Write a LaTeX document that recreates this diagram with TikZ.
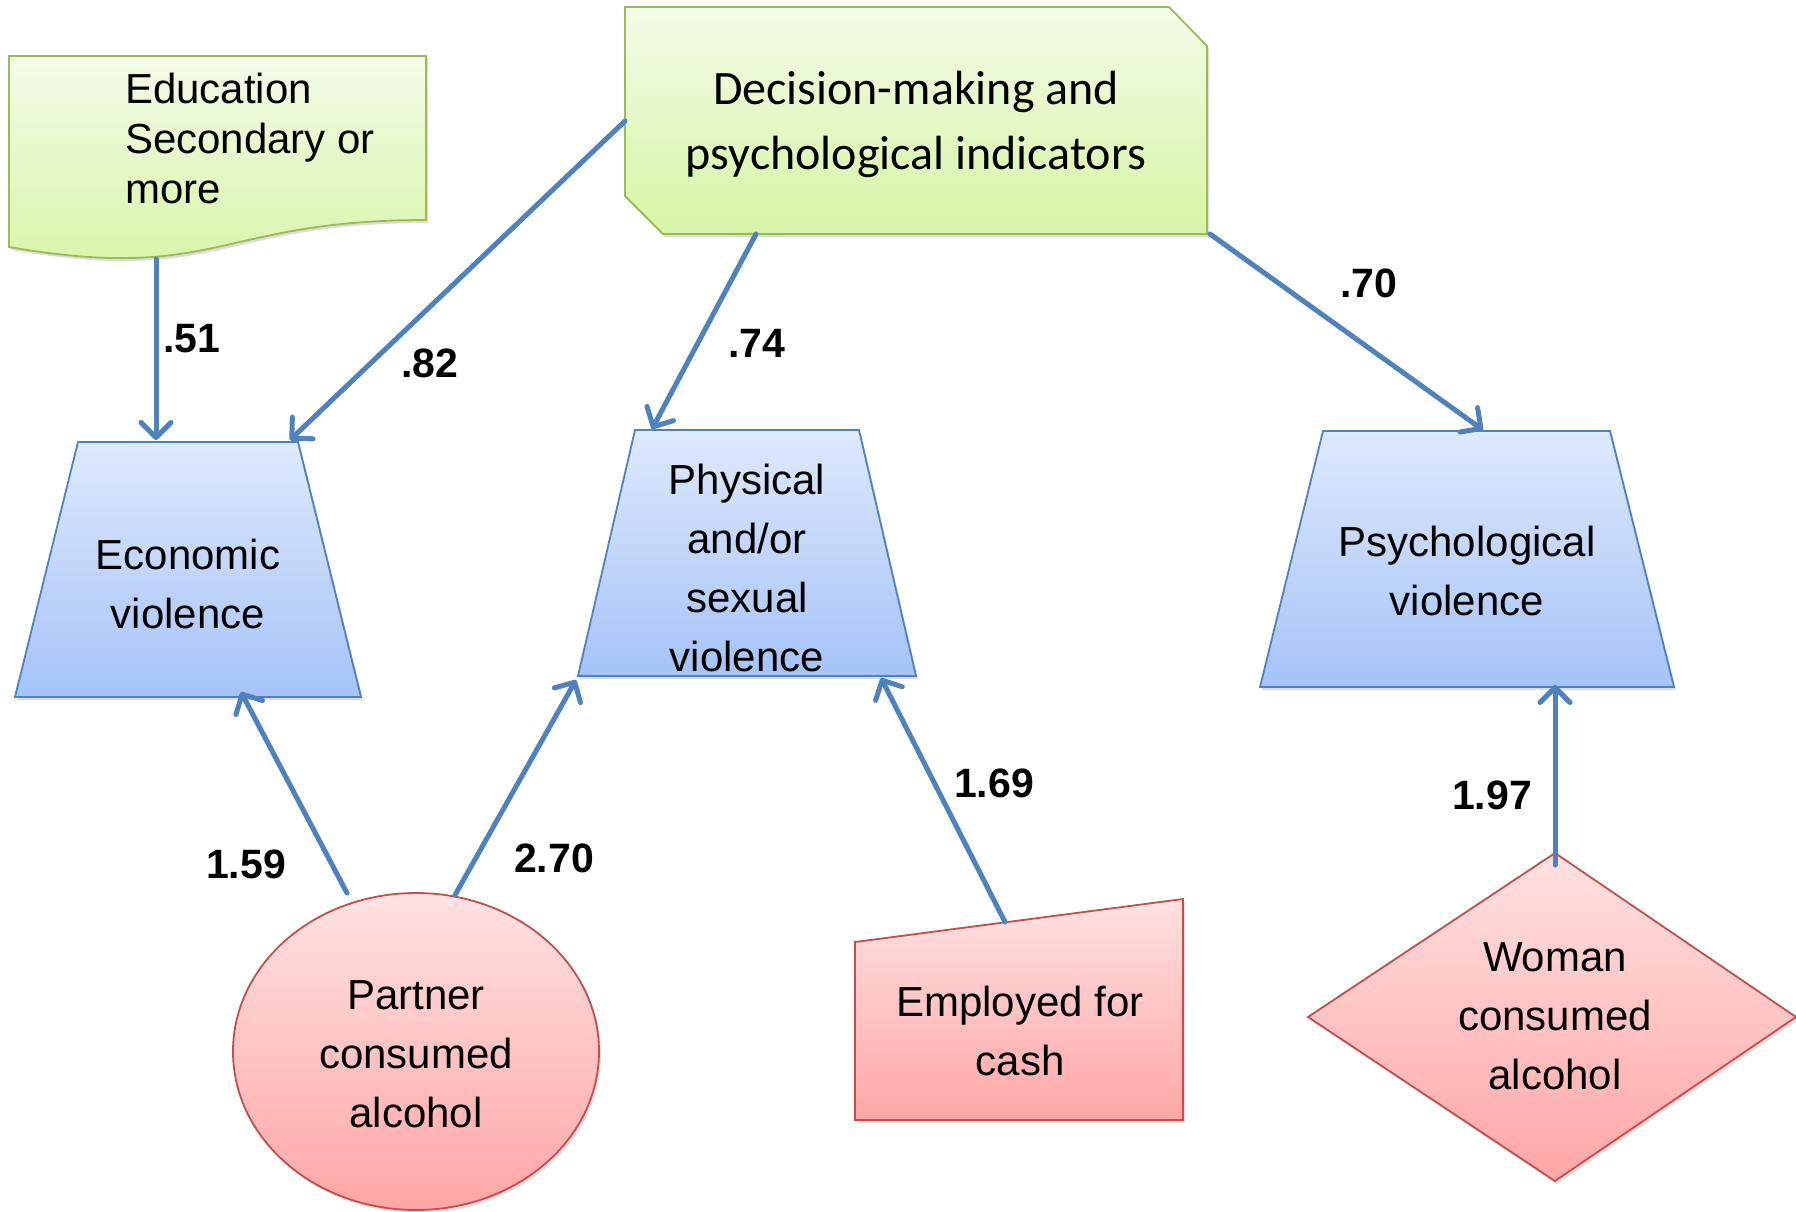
\documentclass[tikz,border=0pt]{standalone}
\usepackage{fontspec}
\setmainfont{Liberation Sans}
\newfontfamily\calfont{Carlito}
\usetikzlibrary{arrows.meta,shadows}
\definecolor{grnTop}{HTML}{F3FBE8}
\definecolor{grnBot}{HTML}{D6F5A4}
\definecolor{grnLine}{HTML}{9BBB59}
\definecolor{bluTop}{HTML}{DEE9FC}
\definecolor{bluBot}{HTML}{A5C3F8}
\definecolor{bluLine}{HTML}{4F81BD}
\definecolor{redTop}{HTML}{FFE1E1}
\definecolor{redBot}{HTML}{FFA6A6}
\definecolor{redLine}{HTML}{C0504D}
\definecolor{arrBlue}{HTML}{4F81BD}
\tikzset{
  shad/.style={drop shadow={shadow xshift=2pt,shadow yshift=-3pt,opacity=0.22,fill=black!60}},
  grnshape/.style={shad,draw=grnLine,line width=1.8pt,top color=grnTop,bottom color=grnBot},
  blushape/.style={shad,draw=bluLine,line width=1.8pt,top color=bluTop,bottom color=bluBot},
  redshape/.style={shad,draw=redLine,line width=1.8pt,top color=redTop,bottom color=redBot},
  txt/.style={inner sep=0pt,align=center,anchor=base,font=\fontsize{42}{59}\selectfont},
  lbl/.style={inner sep=0pt,anchor=base,font=\fontsize{41}{41}\selectfont\bfseries},
  arr/.style={draw=arrBlue,line width=5pt,line cap=round,-{Straight Barb[length=15pt,width=30pt,round]}}
}
\begin{document}
\begin{tikzpicture}[x=1pt,y=-1pt]
\useasboundingbox[fill=white] (0,0) rectangle (1796,1212);

% shapes
\path[grnshape] (9,56) -- (426,56) -- (426,220) .. controls (217.5,220) and (217.5,283) .. (9,247) -- cycle;
\path[grnshape] (625,7) -- (1169,7) -- (1207,46) -- (1207,234) -- (663,234) -- (625,196) -- cycle;
\path[blushape] (78,442) -- (298,442) -- (361,697) -- (15,697) -- cycle;
\path[blushape] (635,430) -- (859,430) -- (916,676) -- (578,676) -- cycle;
\path[blushape] (1323,431) -- (1610,431) -- (1674,687) -- (1260,687) -- cycle;
\path[redshape] (416,1051.5) ellipse [x radius=183, y radius=158.5];
\path[redshape] (855,942) -- (1183,899) -- (1183,1120) -- (855,1120) -- cycle;
\path[redshape] (1555,853) -- (1796,1017) -- (1555,1181) -- (1308,1017) -- cycle;

% texts (anchored at the baseline of the last line)
\node[inner sep=0pt,align=left,anchor=base west,font=\fontsize{42}{50}\selectfont] (edu) at (125,203) {Education\\Secondary or\\more};
\node[inner sep=0pt,align=center,anchor=base,font=\calfont\fontsize{48}{65}\selectfont] (dec) at (916,169) {Decision-making and\\psychological indicators};
\node[txt] (eco) at (188,628) {Economic\\violence};
\node[txt] (phys) at (747,671) {Physical\\and/or\\sexual\\violence};
\node[txt] (psy) at (1467,615) {Psychological\\violence};
\node[txt] (partner) at (416,1127) {Partner\\consumed\\alcohol};
\node[txt] (emp) at (1020,1075) {Employed for\\cash};
\node[txt] (woman) at (1555,1089) {Woman\\consumed\\alcohol};

% connector end points
\coordinate (edu-s) at (156,259);
\coordinate (eco-n1) at (156,440);
\coordinate (dec-w) at (625,121);
\coordinate (eco-n2) at (290,440);
\coordinate (dec-s) at (756,234);
\coordinate (phys-n) at (652,429);
\coordinate (dec-se) at (1210,234);
\coordinate (psy-n) at (1483,430);
\coordinate (par-n1) at (347,893);
\coordinate (eco-s) at (241,692);
\coordinate (par-n2) at (455,895);
\coordinate (phys-s1) at (576,680);
\coordinate (emp-n) at (1005,922);
\coordinate (phys-s2) at (881,678);
\coordinate (wom-n) at (1555,865);
\coordinate (psy-s) at (1555,685);

% connectors
\draw[arr] (edu-s) -- (eco-n1);
\draw[arr] (dec-w) -- (eco-n2);
\draw[arr] (dec-s) -- (phys-n);
\draw[arr] (dec-se) -- (psy-n);
\draw[arr] (par-n1) -- (eco-s);
\draw[arr] (par-n2) -- (phys-s1);
\draw[arr] (emp-n) -- (phys-s2);
\draw[arr] (wom-n) -- (psy-s);

% labels
\node[lbl] (l51) at (192,352) {.51};
\node[lbl] (l82) at (430,377) {.82};
\node[lbl] (l74) at (757,357) {.74};
\node[lbl] (l70) at (1369,297) {.70};
\node[lbl] (l159) at (246,878) {1.59};
\node[lbl] (l270) at (554,872) {2.70};
\node[lbl] (l169) at (994,797) {1.69};
\node[lbl] (l197) at (1492,809) {1.97};
\end{tikzpicture}
\end{document}
